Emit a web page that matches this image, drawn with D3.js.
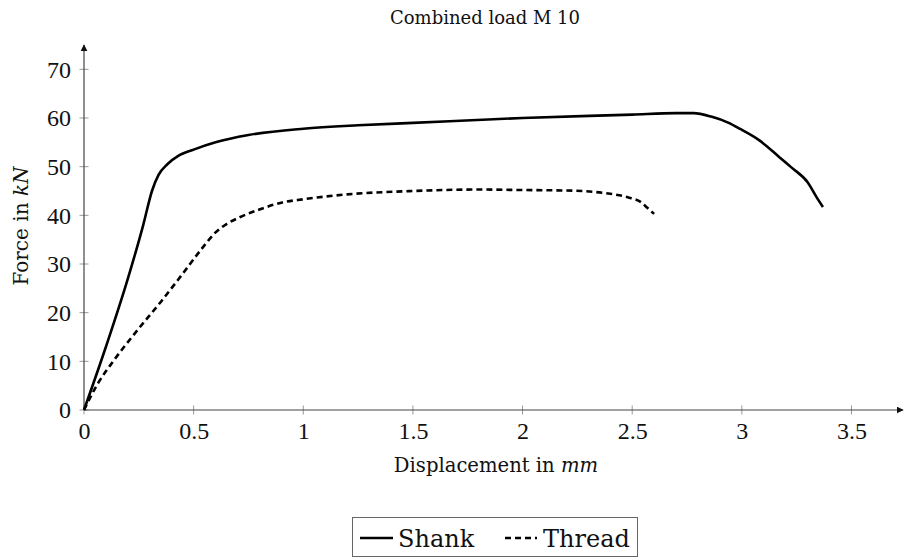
<!DOCTYPE html>
<html>
<head>
<meta charset="utf-8">
<script src="https://cdn.jsdelivr.net/npm/d3@7"></script>
<style>
  body { margin: 0; background: #fff; }
  text { fill: #111; }
  .pal { font-family: "DejaVu Serif", "Liberation Serif", serif; }
  .num { font-family: "Liberation Serif", serif; }
</style>
</head>
<body>
<div id="chart"></div>
<script>
const width = 904;
const height = 558;

// Shank curve (displacement in mm, force in kN)
const shankX = [0, 0.1, 0.2, 0.27, 0.31, 0.34, 0.38, 0.43, 0.5, 0.6, 0.75, 1.0, 1.25, 1.5, 2.0, 2.5, 2.7, 2.78, 2.86, 2.94, 2.99, 3.08, 3.17, 3.23, 3.30, 3.34, 3.37];
const shankY = [0, 13, 27, 38, 45, 48.3, 50.5, 52.2, 53.5, 55, 56.5, 57.8, 58.5, 59, 60, 60.7, 61, 61, 60.3, 59, 57.8, 55.4, 52, 49.7, 46.8, 43.8, 41.7];

// Thread curve
const threadX = [0, 0.06, 0.133, 0.24, 0.35, 0.45, 0.54, 0.6, 0.65, 0.71, 0.8, 0.9, 1.0, 1.2, 1.5, 1.8, 2.0, 2.2, 2.37, 2.48, 2.54, 2.57, 2.6];
const threadY = [0, 5.2, 10, 16.2, 22.2, 28, 33.3, 36.5, 38.2, 39.6, 41.2, 42.6, 43.3, 44.3, 45, 45.3, 45.2, 45.1, 44.6, 43.7, 42.7, 41.5, 40.3];

const xTicks = [0, 0.5, 1, 1.5, 2, 2.5, 3, 3.5];
const yTicks = [0, 10, 20, 30, 40, 50, 60, 70];

const svg = d3.select('#chart')
  .append('svg')
  .attr('width', width)
  .attr('height', height);

// scales
const x = d3.scaleLinear().domain([0, 3.735]).range([84, 903]);
const y = d3.scaleLinear().domain([0, 75]).range([410, 45]);

// arrow marker
svg.append('defs').append('marker')
  .attr('id', 'arrow')
  .attr('viewBox', '0 0 10 10')
  .attr('refX', 9).attr('refY', 5)
  .attr('markerWidth', 7).attr('markerHeight', 7)
  .attr('markerUnits', 'userSpaceOnUse')
  .attr('orient', 'auto')
  .append('path')
  .attr('d', 'M0,0 L10,5 L0,10 Z')
  .attr('fill', '#111');

// x axis
const xAxis = d3.axisBottom(x)
  .tickValues(xTicks)
  .tickSize(0)
  .tickPadding(12)
  .tickFormat(d => d);
const gx = svg.append('g').attr('transform', `translate(0,${y(0)})`).call(xAxis);
gx.select('.domain').remove();
gx.selectAll('text').attr('class', 'num').attr('font-size', 24).attr('font-family', null).attr('fill', '#111');
svg.append('g').selectAll('line')
  .data(xTicks)
  .enter().append('line')
  .attr('x1', d => x(d)).attr('x2', d => x(d))
  .attr('y1', y(0) - 4.5).attr('y2', y(0) + 4.5)
  .attr('stroke', '#999').attr('stroke-width', 1);

// y axis
const yAxis = d3.axisLeft(y)
  .tickValues(yTicks)
  .tickSize(0)
  .tickPadding(13);
const gy = svg.append('g').attr('transform', `translate(${x(0)},0)`).call(yAxis);
gy.select('.domain').remove();
gy.selectAll('text').attr('class', 'num').attr('font-size', 24).attr('font-family', null).attr('fill', '#111');
svg.append('g').selectAll('line')
  .data(yTicks)
  .enter().append('line')
  .attr('x1', x(0) - 4.5).attr('x2', x(0) + 4.5)
  .attr('y1', d => y(d)).attr('y2', d => y(d))
  .attr('stroke', '#999').attr('stroke-width', 1);

// axis lines with arrows
svg.append('line')
  .attr('x1', x(0)).attr('y1', y(0))
  .attr('x2', x.range()[1]).attr('y2', y(0))
  .attr('stroke', '#444').attr('stroke-width', 1.2)
  .attr('marker-end', 'url(#arrow)');
svg.append('line')
  .attr('x1', x(0)).attr('y1', y(0))
  .attr('x2', x(0)).attr('y2', y.range()[1])
  .attr('stroke', '#444').attr('stroke-width', 1.2)
  .attr('marker-end', 'url(#arrow)');

// curves
const line = d3.line()
  .x(d => x(d[0]))
  .y(d => y(d[1]))
  .curve(d3.curveMonotoneX);

svg.append('path')
  .datum(shankX.map((d, i) => [d, shankY[i]]))
  .attr('d', line)
  .attr('fill', 'none')
  .attr('stroke', '#000')
  .attr('stroke-width', 2.6);

svg.append('path')
  .datum(threadX.map((d, i) => [d, threadY[i]]))
  .attr('d', line)
  .attr('fill', 'none')
  .attr('stroke', '#000')
  .attr('stroke-width', 2.6)
  .attr('stroke-dasharray', '6,4');

// title and labels
svg.append('text')
  .attr('class', 'pal')
  .attr('x', 485).attr('y', 24)
  .attr('text-anchor', 'middle')
  .attr('font-size', 18)
  .text('Combined load M 10');

const xl = svg.append('text')
  .attr('class', 'pal')
  .attr('x', 496).attr('y', 472)
  .attr('text-anchor', 'middle')
  .attr('font-size', 19.6);
xl.append('tspan').text('Displacement in ');
xl.append('tspan').attr('font-style', 'italic').text('mm');

const yl = svg.append('text')
  .attr('class', 'pal')
  .attr('transform', 'translate(28,226) rotate(-90)')
  .attr('text-anchor', 'middle')
  .attr('font-size', 20);
yl.append('tspan').text('Force in ');
yl.append('tspan').attr('font-style', 'italic').text('kN');

// legend
const legend = svg.append('g');
legend.append('rect')
  .attr('x', 352.5).attr('y', 517.5)
  .attr('width', 285).attr('height', 39)
  .attr('fill', '#fff')
  .attr('stroke', '#666').attr('stroke-width', 1);
legend.append('line')
  .attr('x1', 360).attr('x2', 393).attr('y1', 538).attr('y2', 538)
  .attr('stroke', '#000').attr('stroke-width', 2.6);
legend.append('text')
  .attr('class', 'pal')
  .attr('x', 398).attr('y', 547)
  .attr('font-size', 24)
  .text('Shank');
legend.append('line')
  .attr('x1', 505).attr('x2', 537).attr('y1', 538).attr('y2', 538)
  .attr('stroke', '#000').attr('stroke-width', 2.6)
  .attr('stroke-dasharray', '6,4');
legend.append('text')
  .attr('class', 'pal')
  .attr('x', 543).attr('y', 547)
  .attr('font-size', 24)
  .text('Thread');
</script>
</body>
</html>
